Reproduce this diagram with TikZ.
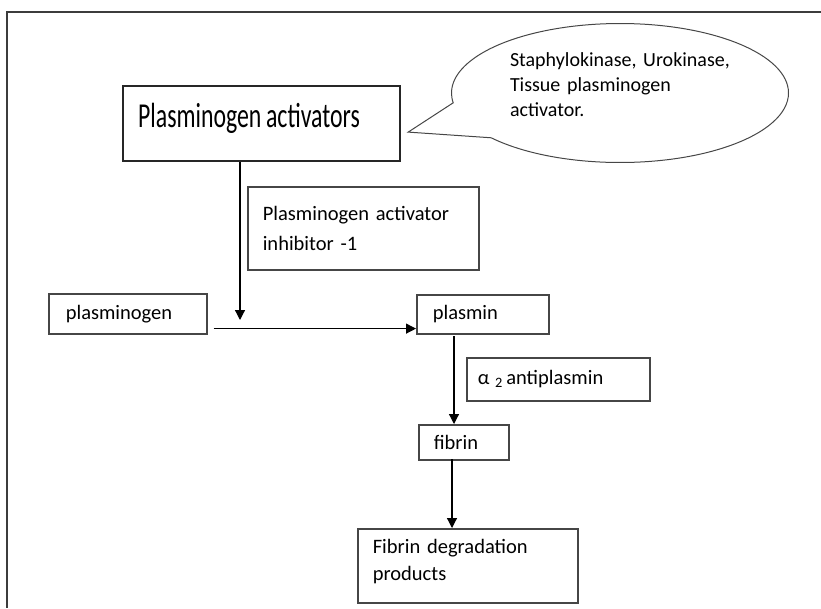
\documentclass[tikz,border=0pt]{standalone}
\usepackage{fontspec}
\setmainfont{Carlito}
\usetikzlibrary{shapes, shapes.callouts, arrows.meta, positioning, calc}
\definecolor{BoxLine}{RGB}{70, 70, 70}
\definecolor{FrameLine}{RGB}{60, 60, 60}

\begin{document}
\begin{tikzpicture}[x=1pt, y=-1pt,
        stepbox/.style={rectangle, draw=BoxLine, line width=1.6pt, anchor=north west, align=left, inner ysep=0pt, font=\fontsize{20.5}{27}\selectfont},
        bigbox/.style={stepbox, draw=black!85, line width=2.2pt},
        flow/.style={-{Triangle[length=10pt, width=10pt]}, line width=1.2pt},
        bubble/.style={ellipse callout, draw=BoxLine, line width=1pt, align=left, font=\fontsize{20}{25}\selectfont}
    ]

    \useasboundingbox (0,0) rectangle (821,608);
    \draw[FrameLine, line width=1.8pt] (821,12) -- (7,12) -- (7,608);

    % boxes
    \node[bigbox, minimum height=75pt, text width=247pt, inner xsep=15pt, text depth=16pt] (pa) at (122,85)
        {\scalebox{0.68}[1]{\fontsize{35}{40}\selectfont Plasminogen activators}};
    \node[stepbox, minimum height=83pt, text width=201pt, inner xsep=15pt, font=\fontsize{20.5}{30}\selectfont] (inhib) at (247,186)
        {Plasminogen activator\\inhibitor -1};
    \node[stepbox, minimum height=40pt, text width=124pt, inner xsep=17pt] (plasminogen) at (48,293) {plasminogen};
    \node[stepbox, minimum height=39pt, text width=100pt, inner xsep=16pt] (plasmin) at (416,294) {plasmin};
    \node[stepbox, minimum height=43pt, text width=161pt, inner xsep=11pt] (anti) at (466,357)
        {α\;\textsubscript{2}\,antiplasmin};
    \node[stepbox, minimum height=35pt, text width=60pt, inner xsep=15pt] (fibrin) at (418,424) {fibrin};
    \node[stepbox, minimum height=74pt, text width=190pt, inner xsep=15pt, text depth=39pt] (fdp) at (357,528)
        {Fibrin degradation\\products};

    % speech bubble
    \coordinate (tip) at ([xshift=7pt, yshift=-8.5pt]pa.east);
    \node[bubble, minimum width=337pt, minimum height=139pt, text width=220pt, text depth=67pt,
          callout absolute pointer=(tip), callout pointer arc=32] (note) at (620,93)
        {Staphylokinase, Urokinase,\\Tissue plasminogen\\activator.};

    % arrows
    \coordinate (drop) at (240,320);
    \coordinate (pf) at (454,336);
    \coordinate (ff) at (452,459);
    \draw[flow] (pa.south -| drop) -- (drop);
    \draw[flow] ([xshift=6pt, yshift=6pt]plasminogen.south east) -- ([yshift=6pt]plasmin.south west);
    \draw[flow] (pf) -- (pf |- fibrin.north);
    \draw[flow] (ff) -- (ff |- fdp.north);

\end{tikzpicture}
\end{document}
